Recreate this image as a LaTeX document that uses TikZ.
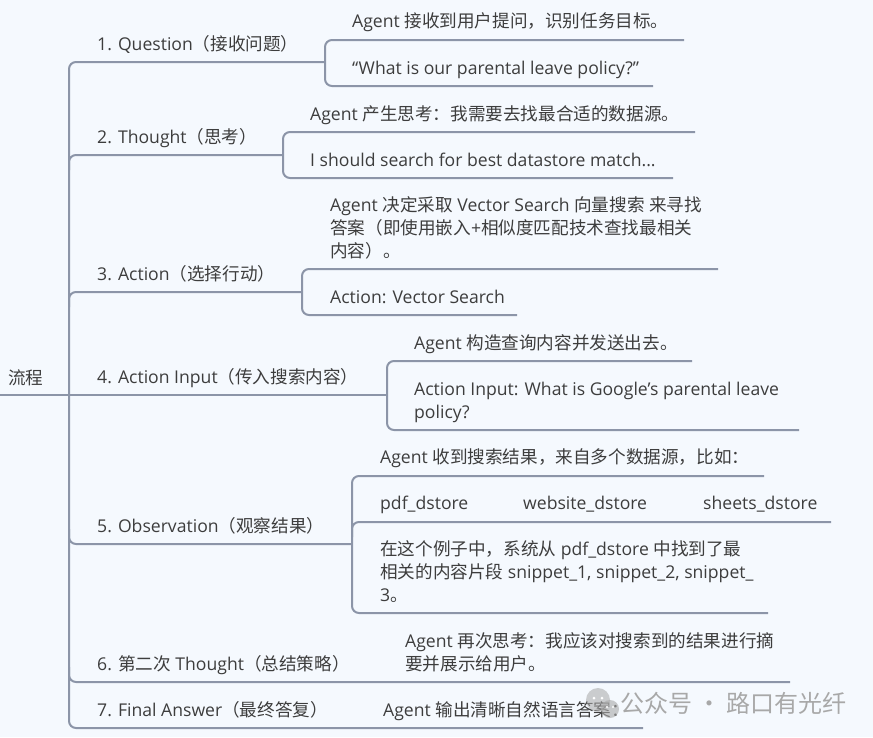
\documentclass[tikz,border=0pt]{standalone}
\usepackage{fontspec}
\setmainfont{Open Sans}
\newfontfamily\zhfont{Noto Sans CJK SC}
\newcommand\zh[1]{{\zhfont #1}}
\definecolor{bgc}{HTML}{F5F9FE}
\definecolor{lc}{HTML}{8C95A8}
\definecolor{tc}{HTML}{3D3D3D}
\definecolor{wm}{HTML}{A8A8A8}
\tikzset{
  ln/.style={draw=lc, line width=2pt, rounded corners=7pt},
  txt/.style={anchor=base west, inner sep=0pt, text=tc, align=left,
              font=\fontsize{17.6}{23}\selectfont},
}
\begin{document}
\begin{tikzpicture}[x=1pt,y=-1pt]
\fill[bgc] (0,0) rectangle (873,737);
\useasboundingbox (0,0) rectangle (873,737);

% root
\node[txt] (root) at (8,384) {\zh{流程}};
\coordinate (rootL) at (0,395);
\coordinate (hub) at (69,395);
\draw[ln] (rootL) -- (hub);

% level 1 labels
\node[txt] (b1) at (97,50)  {1. Question\zh{（接收问题）}};
\node[txt] (b2) at (97,143) {2. Thought\zh{（思考）}};
\node[txt] (b3) at (97,280) {3. Action\zh{（选择行动）}};
\node[txt] (b4) at (97,383) {4. Action Input\zh{（传入搜索内容）}};
\node[txt] (b5) at (97,532) {5. Observation\zh{（观察结果）}};
\node[txt] (b6) at (97,670) {6. \zh{第二次} Thought\zh{（总结策略）}};
\node[txt] (b7) at (97,716) {7. Final Answer\zh{（最终答复）}};

% trunk with branch 1 and branch 7
\draw[ln] (325,62) -- (69,62) -- (69,728) -- (643,728);
% other branches
\draw[ln] (69,170) -- (69,155) -- (283,155);
\draw[ln] (69,307) -- (69,292) -- (302,292);
\draw[ln] (hub) -- (387,395);
\draw[ln] (69,529) -- (69,544) -- (352,544);
\draw[ln] (69,667) -- (69,682) -- (790,682);

% children of 1
\node[txt] (q1) at (352,27) {Agent \zh{接收到用户提问，识别任务目标。}};
\node[txt] (q2) at (352,74) {“What is our parental leave policy?”};
\draw[ln] (684,40) -- (325,40) -- (325,86) -- (653,86);

% children of 2
\node[txt] (t1) at (310,120) {Agent \zh{产生思考：我需要去找最合适的数据源。}};
\node[txt] (t2) at (310,166) {I should search for best datastore match...};
\draw[ln] (695,132) -- (283,132) -- (283,178) -- (673,178);

% children of 3
\node[txt] (a1) at (330,257) {Agent \zh{决定采取} Vector Search \zh{向量搜索} \zh{来寻找}\\\zh{答案（即使用嵌入}+\zh{相似度匹配技术查找最相关}\\\zh{内容）。}};
\node[txt] (a2) at (330,303) {Action: Vector Search};
\draw[ln] (718,269) -- (302,269) -- (302,315) -- (517,315);

% children of 4
\node[txt] (i1) at (414,349) {Agent \zh{构造查询内容并发送出去。}};
\node[txt] (i2) at (414,418) {Action Input: What is Google’s parental leave\\policy?};
\draw[ln] (692,361) -- (387,361) -- (387,430) -- (799,430);

% children of 5
\node[txt] (o1) at (380,463) {Agent \zh{收到搜索结果，来自多个数据源，比如：}};
\node[txt] (o2) at (380,509) {\makebox[143pt][l]{pdf\_dstore}\makebox[180pt][l]{website\_dstore}sheets\_dstore};
\node[txt] (o3) at (380,601) {\zh{在这个例子中，系统从} pdf\_dstore \zh{中找到了最}\\\zh{相关的内容片段} snippet\_1, snippet\_2, snippet\_\\3\zh{。}};
\draw[ln] (764,476) -- (352,476) -- (352,613) -- (768,613);
\draw[ln] (352,537) -- (352,522) -- (831,522);

% child of 6
\node[txt] (s1) at (405,670) {Agent \zh{再次思考：我应该对搜索到的结果进行摘}\\\zh{要并展示给用户。}};

% child of 7
\node[txt] (f1) at (383,716) {Agent \zh{输出清晰自然语言答案：}};

% watermark
\fill[wm, opacity=0.55] (598,700) circle (12);
\fill[wm, opacity=0.6] (610,709) circle (9);
\fill[white] (594,698) circle (1.5) (602,698) circle (1.5) (607,707) circle (1.2) (613,707) circle (1.2);
\node[anchor=base west, inner sep=0pt, text=wm, font=\zhfont\fontsize{24}{24}\selectfont] (wmark) at (620,712) {公众号 · 路口有光纤};
\end{tikzpicture}
\end{document}
